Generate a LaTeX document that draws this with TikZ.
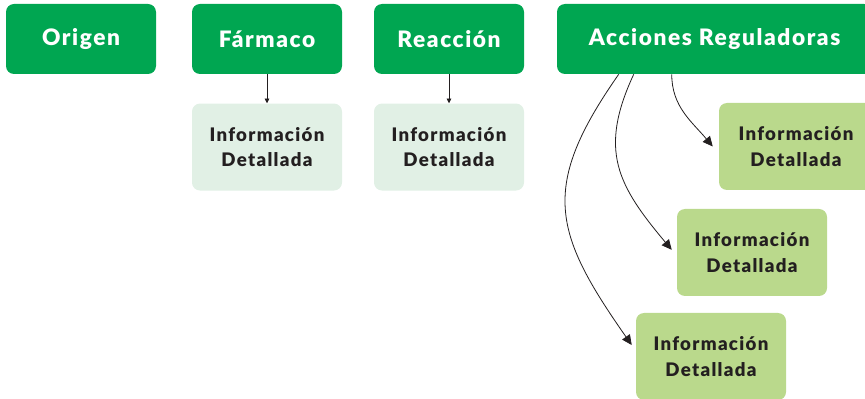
\documentclass[tikz,border=0pt]{standalone}
\usepackage{fontspec}
\setmainfont{Lato}[LetterSpace=7,BoldFont={Lato Black}]
\usetikzlibrary{positioning,arrows.meta}
\definecolor{verde}{HTML}{00A651}
\definecolor{verdeclaro}{HTML}{BAD98C}
\definecolor{menta}{HTML}{E1F0E5}
\definecolor{tinta}{HTML}{231F20}
\tikzset{
titulo/.style={
  fill=verde,
  text=white,
  rounded corners=6pt,
  minimum width=112.5pt,
  minimum height=52.5pt,
  font=\fontsize{17}{20}\selectfont\bfseries
},
detalle/.style={
  fill=menta,
  text=tinta,
  rounded corners=6pt,
  minimum width=112.5pt,
  minimum height=65.25pt,
  align=center,
  font=\fontsize{14}{19.3}\selectfont\bfseries
},
accion/.style={detalle,fill=verdeclaro},
flecha/.style={draw=tinta,line width=0.6pt,-{Triangle[length=7.5pt,width=7pt]}}
}

\begin{document}
\begin{tikzpicture}[x=0.75pt,y=0.75pt]
  \useasboundingbox (0,0) rectangle (865,-399);

  \node[titulo] (origen) at (81,-39) {Origen};
  \node[titulo] (farmaco) at (267,-39) {Fármaco};
  \node[titulo] (reaccion) at (449,-39) {Reacción};
  \node[titulo,minimum width=236.25pt] (acciones) at (714.5,-39) {Acciones Reguladoras};

  \node[detalle,below=21.75pt of farmaco] (infoF) {Información\\Detallada};
  \node[detalle,below=21.75pt of reaccion] (infoR) {Información\\Detallada};

  \node[accion,minimum width=115.5pt] (infoA) at (796,-146.5) {Información\\Detallada};
  \node[accion] (infoB) at (752,-252.5) {Información\\Detallada};
  \node[accion] (infoC) at (711,-356.5) {Información\\Detallada};

  \draw[flecha,-{Triangle[length=3.5pt,width=3.5pt]}] (farmaco) -- (infoF);
  \draw[flecha,-{Triangle[length=3.5pt,width=3.5pt]}] (reaccion) -- (infoR);

  \draw[flecha] ([xshift=86.25pt]acciones.south west)
    to[out=-90,in=130] ([xshift=-4.5pt]infoA.west);
  \draw[flecha] ([xshift=57.75pt]acciones.south west)
    to[out=-115,in=130,looseness=1.2] ([shift={(-3.75pt,2pt)}]infoB.west);
  \draw[flecha] ([xshift=46.5pt]acciones.south west)
    to[out=-125,in=125,looseness=1.3] ([shift={(-3pt,8.6pt)}]infoC.west);
\end{tikzpicture}
\end{document}
